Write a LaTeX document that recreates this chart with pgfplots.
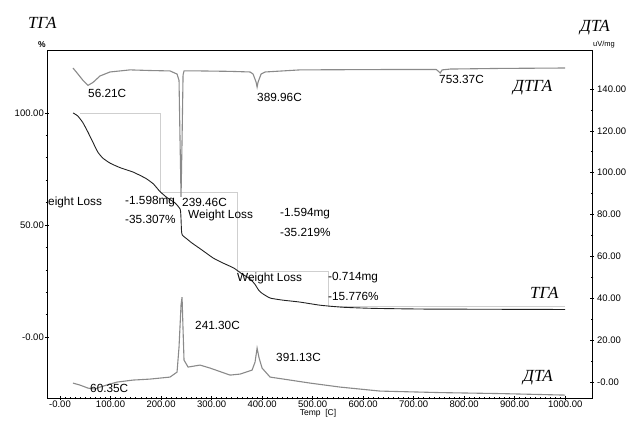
\documentclass[border=0pt]{standalone}
\usepackage{pgfplots}
\pgfplotsset{compat=1.18}
\usepackage{fontspec}
\setmainfont{Liberation Sans}
\newfontfamily\cyr{Liberation Serif}
\definecolor{tgacol}{HTML}{222222}
\definecolor{dcol}{HTML}{8A8A8A}
\definecolor{stepcol}{HTML}{CFCFCF}
\begin{document}
\begin{tikzpicture}
\path[use as bounding box] (0pt,0pt) rectangle (628pt,420pt);
\pgfplotsset{
  common/.style={
    scale only axis, width=545pt, height=348pt,
    at={(47pt,22pt)}, anchor=south west,
    xmin=-25.7, xmax=1053,
    tick align=center,
    major tick length=4pt, minor tick length=2.5pt,
    every tick/.style={black, line width=0.6pt},
    ticklabel style={font=\fontsize{9.5}{11}\selectfont},
    axis line style={line width=0.8pt},
  }
}
\begin{axis}[common,
  ymin=-27.2, ymax=128.1,
  xtick={0,100,...,1000},
  xticklabels={-0.00,100.00,200.00,300.00,400.00,500.00,600.00,700.00,800.00,900.00,1000.00},
  minor x tick num=9,
  ytick={0,50,100},
  yticklabels={-0.00,50.00,100.00},
  minor y tick num=4,
  xtick pos=bottom, ytick pos=left,
  xticklabel style={inner sep=1pt},
  yticklabel style={inner sep=1pt},
]
% step lines (weight loss)
\addplot[stepcol, line width=0.8pt] coordinates {
(40,100) (198,100) (198,64.7) (350.5,64.7) (350.5,29.5) (530.7,29.5) (530.7,13.7) (1000,13.7)};
% TGA
\addplot[tgacol, line width=0.9pt, smooth, tension=0.3] coordinates {
(26,100) (35,98.7) (45,95.8) (55,91.6) (65,87) (75,82.5) (85,79.8) (100,77.5)
(120,75.5) (145,73.6) (170,70.8) (185,68.3) (198,64.9) (212,62.2) (228,59.8)
(238,57) (239.5,53) (240.5,47.5) (242,45.5) (250,44) (261,42) (280,39)
(303,35.3) (320,33.3) (344,30.8) (360,28.2) (376,26) (386,23.5) (393,21)
(400,19.5) (416,17.4) (440,16.5) (475,15.6) (515,14.2) (560,13.3) (620,12.8)
(716,12.5) (850,12.4) (1000,12.3)};
\end{axis}
\begin{axis}[common,
  ymin=-7.6, ymax=158.6,
  axis x line=none, axis y line*=right,
  ytick={0,20,...,140},
  yticklabels={-0.00,20.00,40.00,60.00,80.00,100.00,120.00,140.00},
  minor y tick num=1,
  yticklabel style={inner sep=1pt, anchor=west, xshift=2pt},
]
% DTG
\addplot[dcol, line width=1.1pt] coordinates {
(25.7,150.0) (35.6,147.1) (45.5,144.1) (55.4,141.7) (65.3,143.1) (79.2,146.2)
(99.0,148.1) (138.6,149.1) (178.2,148.8) (217.8,148.6) (231.7,147.1)
(235.6,144.1) (237.6,115.6) (239.6,88.4) (241.6,115.6) (243.6,146.7)
(245.5,148.6) (277.2,148.6) (336.6,148.4) (376.2,148.1) (382.2,147.1)
(388.1,143.3) (390.1,140.9) (392.1,143.3) (398.0,147.1) (405.9,148.1)
(475.2,149.1) (673.3,149.3) (744.6,149.3) (750.5,148.1) (752.5,147.6)
(756.4,149.1) (772.3,149.5) (871.3,149.8) (1000,150.0)};
% DTA
\addplot[dcol, line width=1.1pt] coordinates {
(25.7,-0.48) (39.6,-1.43) (55.4,-2.87) (69.3,-3.34) (79.2,-2.39) (99.0,-0.96)
(112.9,0) (144.6,0.96) (178.2,1.43) (217.8,2.39) (231.7,4.78) (235.6,16.7)
(239.6,36.8) (241.6,40.6) (243.6,24.8) (245.5,10.5) (253.5,7.17) (277.2,8.12)
(297.0,6.69) (336.6,3.34) (356.4,3.82) (380.2,5.73) (386.1,9.56) (390.1,16.2)
(394.1,11.5) (400.0,6.69) (415.8,2.39) (455.4,0.96) (495.0,-0.48)
(554.5,-2.39) (633.7,-4.30) (752.5,-5.02) (871.3,-5.49) (1000,-6.21)};
\end{axis}
% annotations
\begin{scope}[every node/.style={inner sep=0pt, anchor=west, font=\fontsize{11.8}{14}\selectfont}]
\node at (88pt,327pt) {56.21C};
\node at (257pt,323pt) {389.96C};
\node at (439pt,341pt) {753.37C};
\node at (48pt,218pt) {eight Loss};
\node at (125pt,218pt) {-1.598mg};
\node at (125pt,201pt) {-35.307\%};
\node at (182pt,218pt) {239.46C};
\node at (188pt,205pt) {Weight Loss};
\node at (280pt,206pt) {-1.594mg};
\node at (280pt,188pt) {-35.219\%};
\node at (237pt,142pt) {Weight Loss};
\node at (328pt,142pt) {-0.714mg};
\node at (328pt,124pt) {-15.776\%};
\node at (195pt,95pt) {241.30C};
\node at (276pt,63pt) {391.13C};
\node at (90pt,32pt) {60.35C};
\end{scope}
\begin{scope}[every node/.style={inner sep=0pt, anchor=west, font=\cyr\itshape\fontsize{17}{20}\selectfont}]
\node at (28pt,397pt) {ТГА};
\node at (580pt,392pt) {ДТА};
\node at (513pt,332pt) {ДТГА};
\node at (530pt,127pt) {ТГА};
\node at (523pt,42pt) {ДТА};
\end{scope}
\node[inner sep=0pt, font=\bfseries\fontsize{8.5}{9}\selectfont] at (42pt,375pt) {\%};
\node[inner sep=0pt, anchor=west, font=\fontsize{7.5}{9}\selectfont] at (593pt,375pt) {uV/mg};
\node[inner sep=0pt, font=\fontsize{8.5}{10}\selectfont] at (318pt,7pt) {Temp~~[C]};
\end{tikzpicture}
\end{document}
